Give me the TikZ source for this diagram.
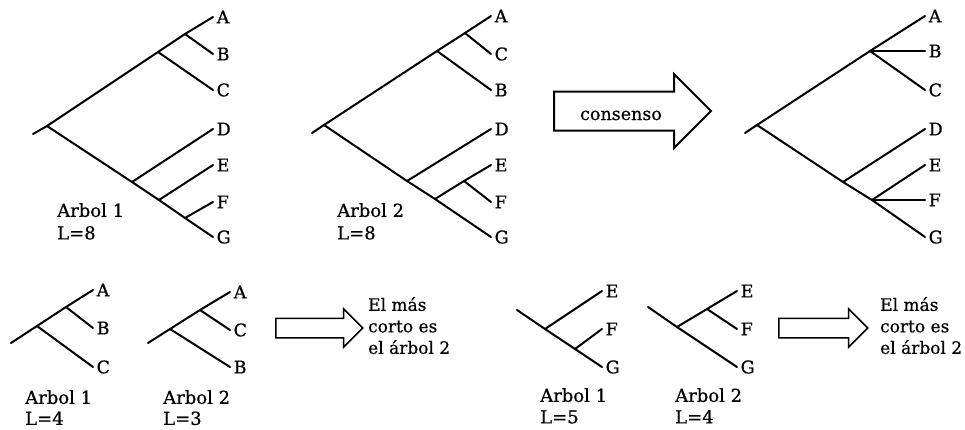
\documentclass[tikz,border=0pt]{standalone}
\usepackage{fontspec}
\setmainfont[FakeBold=0.6]{DejaVu Serif}
\usetikzlibrary{shapes.arrows}
\begin{document}
\begin{tikzpicture}[x=1pt,y=-1pt]
        \tikzstyle{branch}=[line width=2pt, line cap=round]
        \tikzstyle{leaf}=[anchor=west, inner sep=3.5pt, font=\fontsize{17.5}{17.5}\selectfont]
        \tikzstyle{treename}=[anchor=north west, inner sep=0pt, align=left, font=\fontsize{18}{22.5}\selectfont]
        \tikzstyle{verdict}=[anchor=north west, inner sep=0pt, align=left, font=\fontsize{17}{21.5}\selectfont]
        \tikzstyle{bigarrow}=[single arrow, draw, line width=2pt, anchor=tail, minimum height=157pt, single arrow head extend=17.5pt, inner sep=0pt, text height=37pt, text depth=0pt]
        \tikzstyle{smallarrow}=[single arrow, draw, line width=1.5pt, anchor=tail, inner sep=0pt, text height=18pt, text depth=0pt, single arrow head extend=9.5pt]
        \useasboundingbox (0,0) rectangle (965,429);

        \coordinate (s1) at (33,134);
        \coordinate (r1) at (47,126);
        \coordinate (n1abc) at (158,52);
        \coordinate (n1ab) at (185,34);
        \coordinate (n1d) at (132,182);
        \coordinate (n1efg) at (159,200);
        \coordinate (n1fg) at (185,218);
        \node[leaf] (a1) at (213,17) {A};
        \node[leaf] (b1) at (213,54) {B};
        \node[leaf] (c1) at (213,90) {C};
        \node[leaf] (d1) at (213,129) {D};
        \node[leaf] (e1) at (213,165) {E};
        \node[leaf] (f1) at (213,202) {F};
        \node[leaf] (g1) at (213,237) {G};
        \draw[branch] (s1) -- (r1) -- (n1abc) -- (n1ab) -- (a1.west);
        \draw[branch] (n1ab) -- (b1.west);
        \draw[branch] (n1abc) -- (c1.west);
        \draw[branch] (r1) -- (n1d) -- (n1efg) -- (n1fg) -- (g1.west);
        \draw[branch] (n1d) -- (d1.west);
        \draw[branch] (n1efg) -- (e1.west);
        \draw[branch] (n1fg) -- (f1.west);
        \node[treename] (name1) at (57,203) {Arbol 1\\L=8};

        \coordinate (s2) at (312,133);
        \coordinate (r2) at (324,125);
        \coordinate (n2acb) at (437,51);
        \coordinate (n2ac) at (465,33);
        \coordinate (n2d) at (407,181);
        \coordinate (n2efg) at (435,199);
        \coordinate (n2ef) at (464,181);
        \node[leaf] (a2) at (491,16) {A};
        \node[leaf] (c2) at (491,54) {C};
        \node[leaf] (b2) at (491,90) {B};
        \node[leaf] (d2) at (491,129) {D};
        \node[leaf] (e2) at (491,165) {E};
        \node[leaf] (f2) at (491,202) {F};
        \node[leaf] (g2) at (491,237) {G};
        \draw[branch] (s2) -- (r2) -- (n2acb) -- (n2ac) -- (a2.west);
        \draw[branch] (n2ac) -- (c2.west);
        \draw[branch] (n2acb) -- (b2.west);
        \draw[branch] (r2) -- (n2d) -- (n2efg) -- (g2.west);
        \draw[branch] (n2d) -- (d2.west);
        \draw[branch] (n2efg) -- (n2ef) -- (e2.west);
        \draw[branch] (n2ef) -- (f2.west);
        \node[treename] (name2) at (337,203) {Arbol 2\\L=8};

        \node[bigarrow] (cons) at (553,111) {};
        \node[anchor=base, inner sep=0pt, font=\fontsize{17.5}{17.5}\selectfont] (constext) at (621,120) {consenso};

        \coordinate (s3) at (745,133);
        \coordinate (r3) at (757,125);
        \coordinate (n3abc) at (870,51);
        \coordinate (n3d) at (843,182);
        \coordinate (n3efg) at (872,200);
        \node[leaf] (a3) at (925,16) {A};
        \node[leaf] (b3) at (925,51) {B};
        \node[leaf] (c3) at (925,90) {C};
        \node[leaf] (d3) at (925,129) {D};
        \node[leaf] (e3) at (925,165) {E};
        \node[leaf] (f3) at (925,200) {F};
        \node[leaf] (g3) at (925,237) {G};
        \draw[branch] (s3) -- (r3) -- (n3abc) -- (a3.west);
        \draw[branch] (n3abc) -- (b3.west);
        \draw[branch] (n3abc) -- (c3.west);
        \draw[branch] (r3) -- (n3d) -- (n3efg) -- (g3.west);
        \draw[branch] (n3d) -- (d3.west);
        \draw[branch] (n3efg) -- (e3.west);
        \draw[branch] (n3efg) -- (f3.west);

        \coordinate (s4) at (11,343);
        \coordinate (r4) at (37,326);
        \coordinate (n4ab) at (66,307);
        \node[leaf] (a4) at (93,290) {A};
        \node[leaf] (b4) at (93,328) {B};
        \node[leaf] (c4) at (93,367) {C};
        \draw[branch] (s4) -- (r4) -- (n4ab) -- (a4.west);
        \draw[branch] (n4ab) -- (b4.west);
        \draw[branch] (r4) -- (c4.west);
        \node[treename, font=\fontsize{18}{21}\selectfont] (name4) at (25,390) {Arbol 1\\L=4};

        \coordinate (s5) at (148,343);
        \coordinate (r5) at (170,329);
        \coordinate (n5ac) at (200,310);
        \node[leaf] (a5) at (230,292) {A};
        \node[leaf] (c5) at (230,330) {C};
        \node[leaf] (b5) at (230,367) {B};
        \draw[branch] (s5) -- (r5) -- (n5ac) -- (a5.west);
        \draw[branch] (n5ac) -- (c5.west);
        \draw[branch] (r5) -- (b5.west);
        \node[treename, font=\fontsize{18}{21}\selectfont] (name5) at (163,390) {Arbol 2\\L=3};

        \node[smallarrow, minimum height=87pt] (pick1) at (275,328) {};
        \node[verdict] (res1) at (368,297) {El más\\corto es\\el árbol 2};

        \coordinate (s6) at (517,310);
        \coordinate (n6efg) at (545,329);
        \coordinate (n6fg) at (575,349);
        \node[leaf] (e6) at (602,291) {E};
        \node[leaf] (f6) at (602,329) {F};
        \node[leaf] (g6) at (602,367) {G};
        \draw[branch] (s6) -- (n6efg) -- (n6fg) -- (g6.west);
        \draw[branch] (n6efg) -- (e6.west);
        \draw[branch] (n6fg) -- (f6.west);
        \node[treename, font=\fontsize{18}{21.5}\selectfont] (name6) at (540,388) {Arbol 1\\L=5};

        \coordinate (s7) at (648,307);
        \coordinate (r7) at (677,327);
        \coordinate (n7ef) at (707,309);
        \node[leaf] (e7) at (737,291) {E};
        \node[leaf] (f7) at (737,329) {F};
        \node[leaf] (g7) at (737,367) {G};
        \draw[branch] (s7) -- (r7) -- (g7.west);
        \draw[branch] (r7) -- (n7ef) -- (e7.west);
        \draw[branch] (n7ef) -- (f7.west);
        \node[treename, font=\fontsize{18}{21.5}\selectfont] (name7) at (675,388) {Arbol 2\\L=4};

        \node[smallarrow, minimum height=89pt] (pick2) at (778,328) {};
        \node[verdict] (res2) at (880,297) {El más\\corto es\\el árbol 2};
\end{tikzpicture}
\end{document}
